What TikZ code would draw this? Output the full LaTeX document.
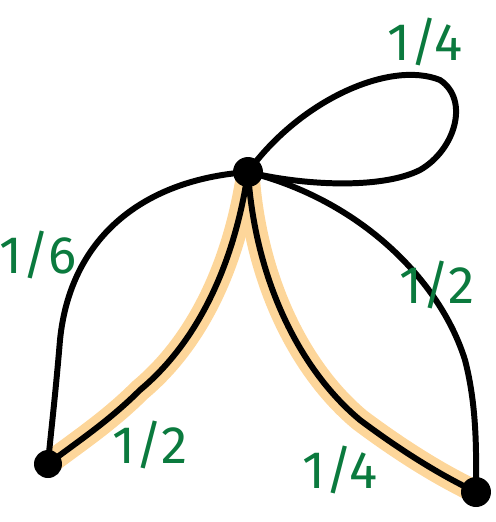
\documentclass[tikz,border=0pt]{standalone}
\usepackage{fontspec}
\setmainfont{Fira Sans}
\definecolor{lblgreen}{HTML}{0B7A3E}
\definecolor{hl}{HTML}{FDD69A}
\pgfdeclarelayer{bg}
\pgfsetlayers{bg,main}
\begin{document}
\begin{tikzpicture}[x=0.02cm,y=-0.02cm,
  vert/.style={circle,fill=black,inner sep=0pt,minimum size=0.6cm},
  edge/.style={line width=3.4pt,line cap=round,line join=round},
  glow/.style={line width=13pt,hl,line cap=round},
  lbl/.style={text=lblgreen,font=\fontsize{30}{30}\selectfont}]
\useasboundingbox (0,0) rectangle (496,522);
\node[vert] (t) at (248,172) {};
\node[vert,minimum size=0.56cm] (l) at (48,464) {};
\node[vert] (r) at (476,492) {};
\begin{pgfonlayer}{bg}
% highlights
\draw[glow] (t.center) .. controls (235,260) and (200,340) .. (140,390) .. controls (110,420) and (80,440) .. (l.center);
\draw[glow] (t.center) .. controls (255,280) and (300,370) .. (360,420) .. controls (400,450) and (440,475) .. (r.center);
% edges
\draw[edge] (t.center) .. controls (235,260) and (200,340) .. (140,390) .. controls (110,420) and (80,440) .. (l.center);
\draw[edge] (t.center) .. controls (255,280) and (300,370) .. (360,420) .. controls (400,450) and (440,475) .. (r.center);
\draw[edge] (t.center) .. controls (140,180) and (70,240) .. (60,340) .. controls (55,400) and (50,440) .. (l.center);
\draw[edge] (t.center) .. controls (360,200) and (440,280) .. (465,360) .. controls (478,410) and (476,460) .. (r.center);
\draw[edge] (t.center) .. controls (300,100) and (390,60) .. (440,80) .. controls (470,100) and (455,150) .. (420,170) .. controls (380,190) and (300,185) .. (t.center);
\end{pgfonlayer}
% labels
\node[lbl] (a) at (425,42) {1/4};
\node[lbl] (b) at (38,255) {1/6};
\node[lbl] (c) at (437,285) {1/2};
\node[lbl] (d) at (150,445) {1/2};
\node[lbl] (e) at (340,470) {1/4};
\end{tikzpicture}
\end{document}
